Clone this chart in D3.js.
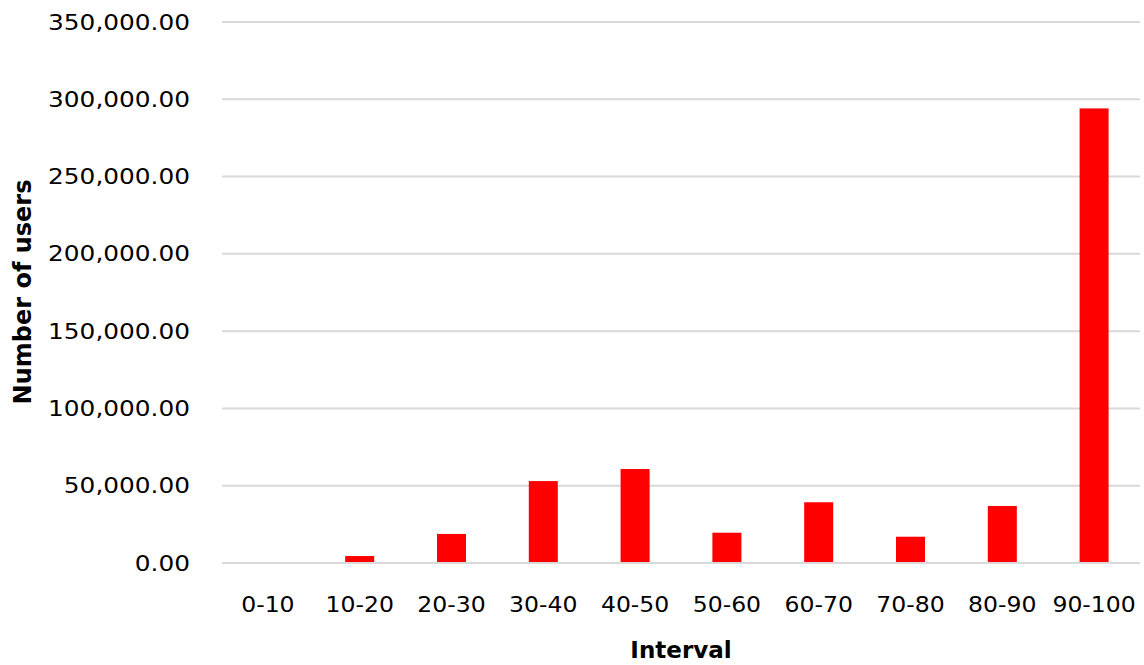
<!DOCTYPE html>
<html><head><meta charset="utf-8">
<script src="https://cdn.jsdelivr.net/npm/d3@7"></script>
<style>body{margin:0;background:#fff;} svg{display:block;} text{font-family:"DejaVu Sans",sans-serif;}</style>
</head><body><svg id="c" width="1144" height="665"></svg>
<script>
const categories = ["0-10","10-20","20-30","30-40","40-50","50-60","60-70","70-80","80-90","90-100"];
const values = [0,4500,18800,53000,60800,19600,39300,17000,36900,294100];
const yTicks = [0,50000,100000,150000,200000,250000,300000,350000];

const svg = d3.select("#c");
const m = {l:222, r:1140, t:22, b:563};
const x = d3.scaleBand().domain(categories).range([m.l, m.r]).paddingInner(0.684).paddingOuter(0.342);
const y = d3.scaleLinear().domain([0,350000]).range([m.b, m.t]);
const fmt = d3.format(",.2f");

function widen(sel, k){
  sel.each(function(){ const w = this.getComputedTextLength(); d3.select(this).attr("textLength", w*k).attr("lengthAdjust","spacingAndGlyphs"); });
}

svg.append("g").selectAll("line").data(yTicks).join("line")
  .attr("x1", m.l).attr("x2", m.r).attr("y1", d=>y(d)).attr("y2", d=>y(d))
  .attr("stroke", "#d9d9d9").attr("stroke-width", 2);

svg.append("g").selectAll("text").data(yTicks).join("text")
  .attr("x", 190).attr("y", d=>y(d)).attr("dy","0.36em").attr("text-anchor","end")
  .attr("font-size", 21).attr("fill","#000").text(d=>fmt(d))
  .call(widen, 1.18);

svg.append("g").selectAll("rect").data(values).join("rect")
  .attr("x", (d,i)=>x(categories[i])).attr("width", x.bandwidth())
  .attr("y", d=>y(d)).attr("height", d=>Math.max(0, y(0)-y(d)-1)).attr("fill","#ff0000");

svg.append("g").selectAll("text").data(categories).join("text")
  .attr("x", d=>x(d)+x.bandwidth()/2).attr("y", 604).attr("dy","0.36em").attr("text-anchor","middle")
  .attr("font-size", 21).attr("fill","#000").text(d=>d)
  .call(widen, 1.12);

svg.append("text").attr("x", 681).attr("y", 650).attr("dy","0.36em").attr("text-anchor","middle")
  .attr("font-size", 23).attr("font-weight","bold").text("Interval");

svg.append("text").attr("transform","translate(22,292) rotate(-90)").attr("dy","0.36em").attr("text-anchor","middle")
  .attr("font-size", 24).attr("font-weight","bold").text("Number of users");
</script></body></html>
